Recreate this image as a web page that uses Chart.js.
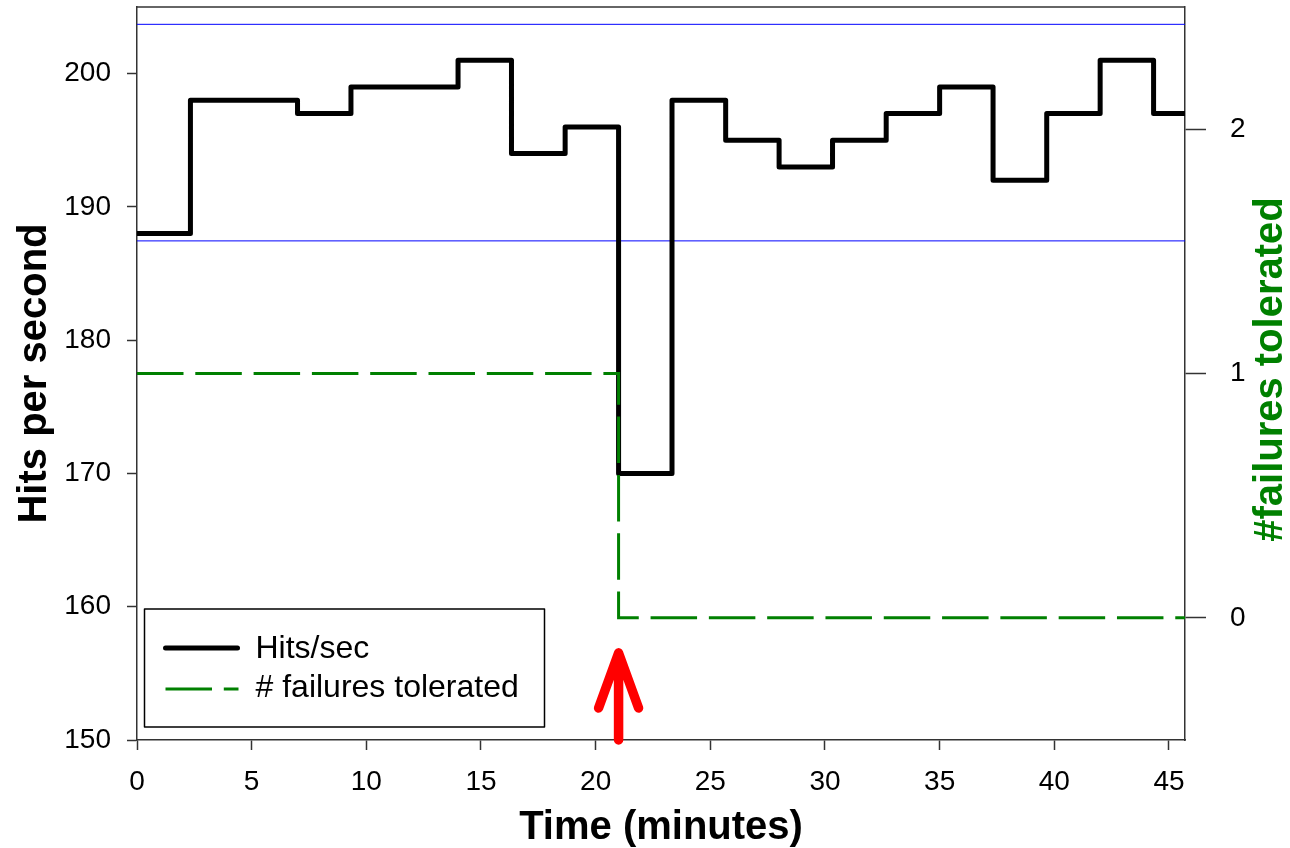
<!DOCTYPE html>
<html>
<head>
<meta charset="utf-8">
<script src="https://cdn.jsdelivr.net/npm/chart.js@4.4.1/dist/chart.umd.min.js"></script>
<style>
  html, body { margin: 0; padding: 0; background: #fff; }
  #wrap { width: 1290px; height: 848px; }
</style>
</head>
<body>
<div id="wrap"><canvas id="chart" width="1290" height="848"></canvas></div>
<script>
// Step start times (minutes) and the hit rate held until the next step
var stepTimes  = [0, 2.33, 4.67, 7.0, 9.33, 11.67, 14.0, 16.33, 18.67, 21.0, 23.33, 25.67, 28.0, 30.33, 32.67, 35.0, 37.33, 39.67, 42.0, 44.33, 45.7];
var hitsPerSec = [188, 198, 198, 197, 199, 199, 201, 194, 196, 170, 198, 195, 193, 195, 197, 199, 192, 197, 201, 197, 197];

// Number of failures the system can still absorb
var failTimes         = [0, 21.0, 45.7];
var failuresTolerated = [1, 0, 0];

// Reference band on the hits axis
var bandTimes = [0, 45.7];
var bandUpper = 203.7;
var bandLower = 187.45;

// When the failure was injected
var failureAt = 21.0;

// Tick labels
var timeTicks = [0, 5, 10, 15, 20, 25, 30, 35, 40, 45];
var hitsTicks = [150, 160, 170, 180, 190, 200];
var failTicks = [0, 1, 2];

var FONT = "'Liberation Sans', Arial, Helvetica, sans-serif";
var AXIS = '#333';
var GREEN = '#008000';
var BLUE = '#0000ff';

Chart.defaults.font.family = FONT;

function pairs(xs, ys) {
  return xs.map(function(x, i) { return { x: x, y: ys[i] }; });
}
function flat(xs, v) {
  return xs.map(function(x) { return { x: x, y: v }; });
}
function fixTicks(list) {
  return function(scale) {
    scale.ticks = list.map(function(v) { return { value: v }; });
  };
}
// keep the plot box fixed: no extra room for edge labels
function fixSize(prop, size) {
  return function(s) {
    s[prop] = size;
    s.paddingTop = 0;
    s.paddingBottom = 0;
    s.paddingLeft = 0;
    s.paddingRight = 0;
  };
}

// ─── Frame, failure arrow, right title and legend ────────────────────────────
var overlay = {
  id: 'overlay',
  afterDraw: function(chart) {
    var ctx = chart.ctx;
    var a = chart.chartArea;
    var xs = chart.scales.x;

    ctx.save();

    // top edge of the frame
    ctx.strokeStyle = AXIS;
    ctx.lineWidth = 1.5;
    ctx.beginPath();
    ctx.moveTo(a.left, a.top);
    ctx.lineTo(a.right, a.top);
    ctx.stroke();

    // red arrow marking the failure
    var ax = xs.getPixelForValue(failureAt);
    var tip = a.bottom - 87;
    ctx.strokeStyle = '#ff0000';
    ctx.lineWidth = 9.5;
    ctx.lineCap = 'round';
    ctx.lineJoin = 'round';
    ctx.beginPath();
    ctx.moveTo(ax, a.bottom);
    ctx.lineTo(ax, tip);
    ctx.moveTo(ax - 20, tip + 55);
    ctx.lineTo(ax, tip);
    ctx.lineTo(ax + 20, tip + 55);
    ctx.stroke();

    // right axis title, reading bottom to top
    ctx.save();
    ctx.translate(1270.5, (a.top + a.bottom) / 2 - 4);
    ctx.rotate(-Math.PI / 2);
    ctx.font = 'bold 40px ' + FONT;
    ctx.fillStyle = GREEN;
    ctx.textAlign = 'center';
    ctx.textBaseline = 'middle';
    ctx.fillText('#failures tolerated', 0, 0);
    ctx.restore();

    // legend box
    var bx = a.left + 7.5, by = a.bottom - 131, bw = 400, bh = 118;
    ctx.fillStyle = '#fff';
    ctx.fillRect(bx, by, bw, bh);
    ctx.strokeStyle = '#000';
    ctx.lineWidth = 1.5;
    ctx.lineCap = 'butt';
    ctx.strokeRect(bx, by, bw, bh);

    ctx.strokeStyle = '#000';
    ctx.lineWidth = 5;
    ctx.lineCap = 'round';
    ctx.beginPath();
    ctx.moveTo(bx + 21, by + 39);
    ctx.lineTo(bx + 93, by + 39);
    ctx.stroke();

    ctx.strokeStyle = GREEN;
    ctx.lineWidth = 3;
    ctx.lineCap = 'butt';
    ctx.setLineDash([46.5, 11.8]);
    ctx.beginPath();
    ctx.moveTo(bx + 21, by + 80);
    ctx.lineTo(bx + 94, by + 80);
    ctx.stroke();
    ctx.setLineDash([]);

    ctx.fillStyle = '#000';
    ctx.font = '32px ' + FONT;
    ctx.textAlign = 'left';
    ctx.textBaseline = 'middle';
    ctx.fillText('Hits/sec', bx + 111, by + 40);
    ctx.fillText('# failures tolerated', bx + 111, by + 79.5);

    ctx.restore();
  }
};

new Chart(document.getElementById('chart').getContext('2d'), {
  type: 'line',
  plugins: [overlay],
  data: {
    datasets: [
      {
        label: '# failures tolerated',
        data: pairs(failTimes, failuresTolerated),
        yAxisID: 'y1',
        borderColor: GREEN,
        borderWidth: 3,
        borderDash: [46.5, 11.8],
        stepped: 'before',
        pointRadius: 0,
        fill: false,
        order: 0
      },
      {
        label: 'Hits/sec',
        data: pairs(stepTimes, hitsPerSec),
        yAxisID: 'y',
        borderColor: '#000',
        borderWidth: 5,
        borderJoinStyle: 'round',
        stepped: 'before',
        pointRadius: 0,
        fill: false,
        order: 1
      },
      {
        label: 'upper',
        data: flat(bandTimes, bandUpper),
        yAxisID: 'y',
        borderColor: BLUE,
        backgroundColor: BLUE,
        borderWidth: 1,
        pointRadius: 0,
        fill: false,
        order: 2
      },
      {
        label: 'lower',
        data: flat(bandTimes, bandLower),
        yAxisID: 'y',
        borderColor: BLUE,
        backgroundColor: BLUE,
        borderWidth: 1,
        pointRadius: 0,
        fill: false,
        order: 3
      }
    ]
  },
  options: {
    responsive: false,
    animation: false,
    layout: { padding: { top: 7, right: 0, bottom: 0, left: 0 } },
    plugins: {
      legend: { display: false },
      tooltip: { enabled: false }
    },
    scales: {
      x: {
        type: 'linear',
        min: 0,
        max: 45.7,
        afterBuildTicks: fixTicks(timeTicks),
        afterFit: fixSize('height', 108),
        border: { display: true, color: AXIS, width: 1.5 },
        grid: { drawOnChartArea: false, drawTicks: true, tickLength: 10, tickColor: AXIS, tickWidth: 1.5 },
        ticks: { color: '#000', font: { size: 28 }, padding: 15, maxRotation: 0 },
        title: {
          display: true,
          text: 'Time (minutes)',
          color: '#000',
          font: { size: 40, weight: 'bold', lineHeight: 1 },
          padding: { top: 0, bottom: 0 }
        }
      },
      y: {
        position: 'left',
        min: 150,
        max: 205,
        afterBuildTicks: fixTicks(hitsTicks),
        afterFit: fixSize('width', 137),
        border: { display: true, color: AXIS, width: 1.5 },
        grid: { drawOnChartArea: false, drawTicks: true, tickLength: 10, tickColor: AXIS, tickWidth: 1.5 },
        ticks: { color: '#000', font: { size: 28 }, padding: 16 },
        title: {
          display: true,
          text: 'Hits per second',
          color: '#000',
          font: { size: 40, weight: 'bold', lineHeight: 1 },
          padding: { top: 15, bottom: 0 }
        }
      },
      y1: {
        position: 'right',
        min: -0.5,
        max: 2.5,
        afterBuildTicks: fixTicks(failTicks),
        afterFit: fixSize('width', 105),
        border: { display: true, color: AXIS, width: 1.5 },
        grid: { drawOnChartArea: false, drawTicks: true, tickLength: 21, tickColor: AXIS, tickWidth: 1.5 },
        ticks: { color: '#000', font: { size: 28 }, padding: 24 }
      }
    }
  }
});
</script>
</body>
</html>
